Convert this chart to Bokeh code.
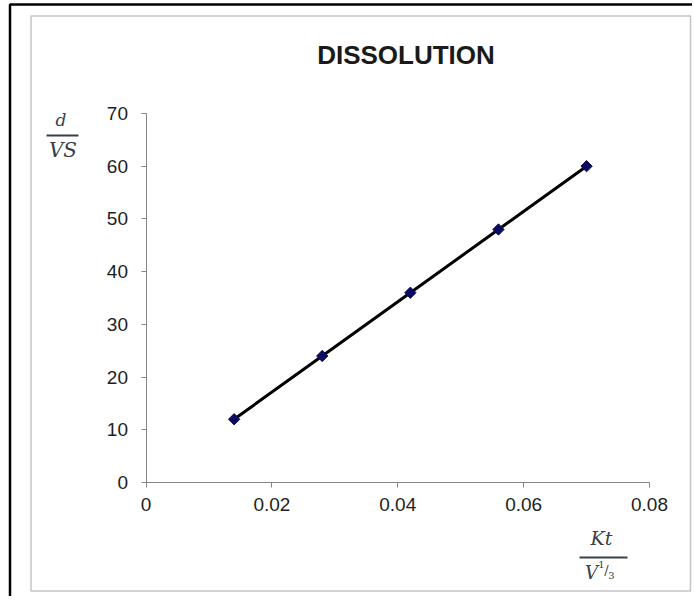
from bokeh.plotting import figure
from bokeh.models import FixedTicker, Label, BoxAnnotation
from bokeh.embed import file_html
from bokeh.resources import INLINE

# ---- data ----
x_vals = [0.014, 0.028, 0.042, 0.056, 0.070]
y_vals = [12, 24, 36, 48, 60]
x_ticks = [0, 0.02, 0.04, 0.06, 0.08]
x_tick_labels = ["0", "0.02", "0.04", "0.06", "0.08"]
y_ticks = [0, 10, 20, 30, 40, 50, 60, 70]
title_text = "DISSOLUTION"

# ---- layout (page pixels of the axis extents) ----
W, H = 692, 596
X0, X1, Y0, Y1 = 0.0, 0.08, 0.0, 70.0
AX_L, AX_R = 145.5, 649.0     # x pixel of X0 and X1
AX_B, AX_T = 482.0, 113.0     # y pixel of Y0 and Y1
sx = (AX_R - AX_L) / (X1 - X0)
sy = (AX_B - AX_T) / (Y1 - Y0)
x_start = X0 - AX_L / sx
x_end = X0 + (W - AX_L) / sx
y_end = Y0 + AX_B / sy
y_start = Y0 - (H - AX_B) / sy


def fx(px):
    return X0 + (px - AX_L) / sx


def fy(py):
    return Y0 + (AX_B - py) / sy


p = figure(width=W, height=H, x_range=(x_start, x_end), y_range=(y_start, y_end),
           output_backend="svg", toolbar_location=None,
           min_border_left=0, min_border_right=0,
           min_border_top=0, min_border_bottom=0)
p.title_location = None
p.background_fill_color = "white"
p.border_fill_color = "white"
p.outline_line_color = None
p.grid.visible = False

p.xaxis.ticker = FixedTicker(ticks=x_ticks)
p.xaxis.major_label_overrides = {t: s for t, s in zip(x_ticks, x_tick_labels)}
p.yaxis.ticker = FixedTicker(ticks=y_ticks)
p.xaxis.fixed_location = Y0
p.yaxis.fixed_location = X0
p.xaxis.bounds = (X0, X1)
p.yaxis.bounds = (Y0, Y1)
for ax in (p.xaxis[0], p.yaxis[0]):
    ax.axis_line_color = "#868686"
    ax.axis_line_width = 1
    ax.major_tick_line_color = "#868686"
    ax.major_tick_out = 5
    ax.major_tick_in = 0
    ax.minor_tick_line_color = None
    ax.major_label_text_font = "Liberation Sans"
    ax.major_label_text_font_size = "19px"
    ax.major_label_text_color = "#1e1e1e"
p.yaxis.major_label_standoff = 13
p.xaxis.major_label_standoff = 10

# frames
p.add_layout(BoxAnnotation(left=fx(9.5), right=fx(900), top=fy(4), bottom=fy(800),
                           fill_color=None, line_color="black", line_alpha=1.0,
                           line_width=2.5, level="underlay"))
p.add_layout(BoxAnnotation(left=fx(30.5), right=fx(690), top=fy(15.5), bottom=fy(590.5),
                           fill_color=None, line_color="#c4c4c4", line_alpha=1.0,
                           line_width=1.5, level="underlay"))

# data
p.line(x_vals, y_vals, line_color="black", line_width=3)
p.scatter(x_vals, y_vals, marker="square", size=8, angle=0.785398,
          fill_color="#0c0c5e", line_color="#0c0c5e")

# title
p.add_layout(Label(x=fx(405.5), y=fy(54), text=title_text, text_align="center",
                   text_baseline="middle", text_font="Liberation Sans",
                   text_font_size="26px", text_font_style="bold", text_color="#1a1a1a"))

# y-axis label: d / VS
lab_col = "#36404a"
p.add_layout(Label(x=fx(60.5), y=fy(119), text="d", text_align="center",
                   text_baseline="middle", text_font="DejaVu Serif",
                   text_font_size="17px", text_font_style="italic", text_color=lab_col))
p.add_layout(BoxAnnotation(left=fx(46), right=fx(78), top=fy(134), bottom=fy(136),
                           fill_color=lab_col, fill_alpha=1.0, line_color=None))
p.add_layout(Label(x=fx(62.5), y=fy(149), text="VS", text_align="center",
                   text_baseline="middle", text_font="DejaVu Serif",
                   text_font_size="20px", text_font_style="italic", text_color=lab_col))

# x-axis label: Kt / V^(1/3)
p.add_layout(Label(x=fx(601), y=fy(537), text="Kt", text_align="center",
                   text_baseline="middle", text_font="DejaVu Serif",
                   text_font_size="19px", text_font_style="italic", text_color=lab_col))
p.add_layout(BoxAnnotation(left=fx(579), right=fx(627), top=fy(556), bottom=fy(558),
                           fill_color=lab_col, fill_alpha=1.0, line_color=None))
p.add_layout(Label(x=fx(591), y=fy(572), text="V", text_align="center",
                   text_baseline="middle", text_font="DejaVu Serif",
                   text_font_size="18px", text_font_style="italic", text_color=lab_col))
p.add_layout(Label(x=fx(601), y=fy(564), text="1", text_align="center",
                   text_baseline="middle", text_font="DejaVu Serif",
                   text_font_size="10px", text_color=lab_col))
p.add_layout(Label(x=fx(606), y=fy(570), text="/", text_align="center",
                   text_baseline="middle", text_font="DejaVu Serif",
                   text_font_size="13px", text_color=lab_col))
p.add_layout(Label(x=fx(611), y=fy(575), text="3", text_align="center",
                   text_baseline="middle", text_font="DejaVu Serif",
                   text_font_size="10px", text_color=lab_col))

open("out.html", "w").write(file_html(p, INLINE))
